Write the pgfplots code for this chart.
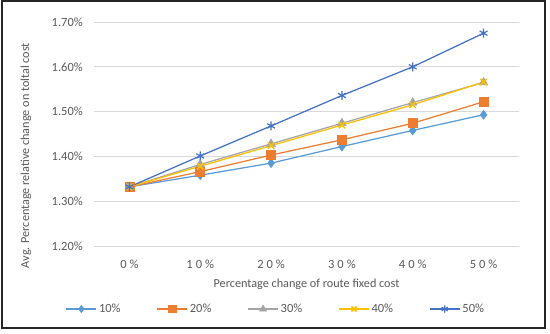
\documentclass[border=0pt]{standalone}
\usepackage{fontspec}
\setmainfont{Carlito}
\usepackage{pgfplots}
\pgfplotsset{compat=1.18}
\definecolor{cA}{RGB}{91,155,213}
\definecolor{cB}{RGB}{237,125,49}
\definecolor{cC}{RGB}{165,165,165}
\definecolor{cD}{RGB}{255,192,0}
\definecolor{cE}{RGB}{68,114,196}
\definecolor{gridc}{RGB}{217,217,217}
\definecolor{textc}{RGB}{89,89,89}
\newcommand{\fs}{\fontsize{12.5}{14}\selectfont}
\newcommand{\fl}{\fontsize{12.2}{14}\selectfont}
\begin{document}
\begin{tikzpicture}
\useasboundingbox (0,0) rectangle (550pt,333pt);
\fill[white] (0,0) rectangle (550pt,333pt);
\draw[line width=2pt, black!85] (1.5pt,5.5pt) rectangle (545pt,331.5pt);
\begin{axis}[
  at={(94pt,87pt)}, anchor=south west,
  scale only axis, width=425pt, height=224pt,
  xmin=-0.5, xmax=5.5, ymin=1.2, ymax=1.7,
  xtick={0,1,2,3,4,5},
  xticklabels={0\kern3pt\%, 1\kern3pt0\kern3pt\%, 2\kern3pt0\kern3pt\%, 3\kern3pt0\kern3pt\%, 4\kern3pt0\kern3pt\%, 5\kern3pt0\kern3pt\%},
  ytick={1.2,1.3,1.4,1.5,1.6,1.7},
  yticklabels={1.20\%,1.30\%,1.40\%,1.50\%,1.60\%,1.70\%},
  axis line style={draw=none},
  ymajorgrids, grid style={draw=gridc, line width=1pt},
  major tick length=0pt,
  tick label style={font=\fs, text=textc, inner sep=0pt},
  xticklabel style={anchor=center, yshift=-18pt},
  yticklabel style={anchor=east, xshift=-11pt},
  xlabel={Percentage change of route fixed cost},
  ylabel={Avg. Percentage relative change on toltal cost},
  every axis x label/.style={at={(rel axis cs:0.5,0)}, yshift=-38pt, anchor=center, font=\fl, text=textc},
  every axis y label/.style={at={(rel axis cs:0,0.404)}, xshift=-68pt, rotate=90, anchor=center, font=\fl, text=textc},
  legend style={at={(rel axis cs:0.428,0)}, yshift=-63pt, anchor=center, draw=none, fill=none,
    font=\fs, text=textc, legend columns=-1,
    /tikz/every even column/.append style={column sep=34pt}},
  legend image code/.code={\draw[mark repeat=2,mark phase=2, every mark/.append style={scale=0.8}] plot coordinates {(0pt,0pt) (15pt,0pt) (30pt,0pt)};},
  every axis plot/.append style={line width=1.25pt},
]
\addplot[color=cA, mark=diamond*, mark size=4.5pt, mark options={solid, fill=cA, line width=0.5pt}]
  coordinates {(0,1.332) (1,1.358) (2,1.385) (3,1.422) (4,1.458) (5,1.493)};
\addlegendentry{10\%}
\addplot[color=cB, mark=square*, mark size=4.5pt, mark options={solid, fill=cB, line width=0.5pt}]
  coordinates {(0,1.332) (1,1.366) (2,1.403) (3,1.437) (4,1.474) (5,1.522)};
\addlegendentry{20\%}
\addplot[color=cC, mark=triangle*, mark size=5pt, mark options={solid, fill=cC, line width=0.5pt}]
  coordinates {(0,1.332) (1,1.382) (2,1.428) (3,1.474) (4,1.520) (5,1.565)};
\addlegendentry{30\%}
\addplot[color=cD, mark=x, mark size=4.5pt, mark options={solid, line width=1.5pt}]
  coordinates {(0,1.332) (1,1.378) (2,1.424) (3,1.470) (4,1.515) (5,1.566)};
\addlegendentry{40\%}
\addplot[color=cE, mark=asterisk, mark size=4.5pt, mark options={solid, line width=1.2pt}]
  coordinates {(0,1.332) (1,1.401) (2,1.468) (3,1.536) (4,1.600) (5,1.675)};
\addlegendentry{50\%}
\end{axis}
\end{tikzpicture}
\end{document}
